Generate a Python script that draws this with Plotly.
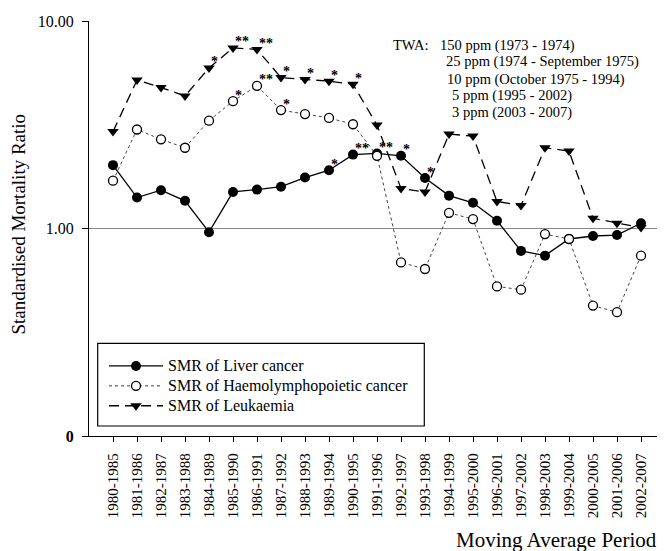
import math
import plotly.graph_objects as go

periods = ["1980-1985", "1981-1986", "1982-1987", "1983-1988", "1984-1989", "1985-1990",
           "1986-1991", "1987-1992", "1988-1993", "1989-1994", "1990-1995", "1991-1996",
           "1992-1997", "1993-1998", "1994-1999", "1995-2000", "1996-2001", "1997-2002",
           "1998-2003", "1999-2004", "2000-2005", "2001-2006", "2002-2007"]

liver = [2.02, 1.41, 1.53, 1.36, 0.96, 1.50, 1.54, 1.59, 1.76, 1.91, 2.27, 2.30,
         2.24, 1.75, 1.44, 1.33, 1.09, 0.78, 0.74, 0.89, 0.92, 0.93, 1.06]
haemo = [1.70, 3.00, 2.69, 2.45, 3.31, 4.11, 4.87, 3.72, 3.56, 3.41, 3.18, 2.24,
         0.686, 0.638, 1.19, 1.11, 0.526, 0.507, 0.94, 0.89, 0.425, 0.395, 0.74]
leuk = [2.93, 5.19, 4.78, 4.35, 5.94, 7.42, 7.29, 5.34, 5.23, 5.13, 4.96, 3.15,
        1.56, 1.50, 2.85, 2.79, 1.35, 1.29, 2.45, 2.36, 1.12, 1.06, 1.01]

series_names = ["SMR of Liver cancer", "SMR of Haemolymphopoietic cancer", "SMR of Leukaemia"]

# significance marks per series: index -> label
liver_sig = {9: "*", 10: "**", 11: "**", 12: "*", 13: "*"}
haemo_sig = {5: "*", 6: "**", 7: "*"}
leuk_sig = {4: "*", 5: "**", 6: "**", 7: "*", 8: "*", 9: "*", 10: "*"}

y_tickvals = [0.1, 1, 10]
y_ticktext = ["<b>0</b>", "1.00", "10.00"]

twa_lines = ["150 ppm (1973 - 1974)", "25 ppm (1974 - September 1975)",
             "10 ppm (October 1975 - 1994)", "5 ppm (1995 - 2002)", "3 ppm (2003 - 2007)"]

FONT = "Liberation Serif, Times New Roman, serif"


def leg(name):
    return '<span style="font-size:16px">' + name + '</span>'


fig = go.Figure()
fig.add_trace(go.Scatter(x=periods, y=liver, name=leg(series_names[0]), mode="lines+markers",
                         line=dict(color="black", width=1.3),
                         marker=dict(symbol="circle", size=10, color="black")))
fig.add_trace(go.Scatter(x=periods, y=haemo, name=leg(series_names[1]), mode="lines+markers",
                         line=dict(color="#444", width=1, dash="dot"),
                         marker=dict(symbol="circle", size=9, color="white",
                                     line=dict(color="black", width=1.3))))
fig.add_trace(go.Scatter(x=periods, y=leuk, name=leg(series_names[2]), mode="lines+markers",
                         line=dict(color="black", width=1.3, dash="10px,6px"),
                         marker=dict(symbol="triangle-down", size=10, color="black")))

annotations = []
for series, sig in ((liver, liver_sig), (haemo, haemo_sig), (leuk, leuk_sig)):
    for i, lab in sig.items():
        annotations.append(dict(x=periods[i], y=math.log10(series[i]), xref="x", yref="y",
                                text="<b>" + lab + "</b>", showarrow=False,
                                xanchor="left", yanchor="middle",
                                xshift=0, yshift=6,
                                font=dict(family=FONT, size=14, color="black")))

# page has an 8px body offset; figure is sized to compensate
OFF = 8
W, H = 665 - OFF, 551 - OFF
L, R, T, B = 89 - OFF, 0, 21 - OFF, 115
pw, ph = W - L - R, H - T - B


def px(x):
    return (x - OFF - L) / pw


def py(y):
    return (H - B - (y - OFF)) / ph


annotations.append(dict(x=px(391), y=py(45), xref="paper", yref="paper", text="TWA:",
                        showarrow=False, xanchor="left", yanchor="middle",
                        font=dict(family=FONT, size=14.5, color="black")))
twa_pos = [(437.5, 45), (443.5, 61.7), (444.5, 79), (450, 95.7), (450, 112.3)]
for t, (xx, yy) in zip(twa_lines, twa_pos):
    annotations.append(dict(x=px(xx), y=py(yy), xref="paper", yref="paper", text=t,
                            showarrow=False, xanchor="left", yanchor="middle",
                            font=dict(family=FONT, size=14.5, color="black")))

annotations.append(dict(x=px(18), y=py(224.5), xref="paper", yref="paper",
                        text="Standardised Mortality Ratio", textangle=-90, showarrow=False,
                        xanchor="center", yanchor="middle",
                        font=dict(family=FONT, size=19, color="black")))
annotations.append(dict(x=px(659), y=py(540), xref="paper", yref="paper",
                        text="Moving Average Period", showarrow=False,
                        xanchor="right", yanchor="middle",
                        font=dict(family=FONT, size=21, color="black")))

shapes = [
    dict(type="line", xref="paper", yref="paper", x0=0, x1=1, y0=0.5, y1=0.5,
         line=dict(color="#888", width=1.2), layer="below"),
    dict(type="rect", xref="paper", yref="paper", x0=px(97.7), x1=px(424.3),
         y0=py(426), y1=py(343.3), line=dict(color="black", width=1.2),
         fillcolor="white", layer="above"),
]

fig.update_layout(
    width=W, height=H, autosize=False,
    margin=dict(l=L, r=R, t=T, b=B, pad=0),
    paper_bgcolor="white", plot_bgcolor="white",
    font=dict(family=FONT, size=15, color="black"),
    showlegend=True,
    legend=dict(x=px(104), y=py(351), xanchor="left", yanchor="top",
                bgcolor="rgba(0,0,0,0)", borderwidth=0, itemwidth=54,
                font=dict(family=FONT, size=13, color="black"), tracegroupgap=0),
    annotations=annotations,
    shapes=shapes,
    xaxis=dict(type="category", range=[-1, 23], showgrid=False, zeroline=False,
               showline=True, linecolor="black", linewidth=1.3,
               ticks="outside", ticklen=5, tickcolor="black", tickwidth=1.2,
               ticklabelstandoff=5,
               tickangle=-90, tickfont=dict(family=FONT, size=15, color="black")),
    yaxis=dict(type="log", range=[-1, 1], showgrid=False, zeroline=False,
               showline=True, linecolor="black", linewidth=1.3,
               ticks="outside", ticklen=6, tickcolor="black", tickwidth=1.2,
               ticklabelstandoff=5,
               tickvals=y_tickvals, ticktext=y_ticktext,
               tickfont=dict(family=FONT, size=16, color="black")),
)

fig.write_html("out.html")
